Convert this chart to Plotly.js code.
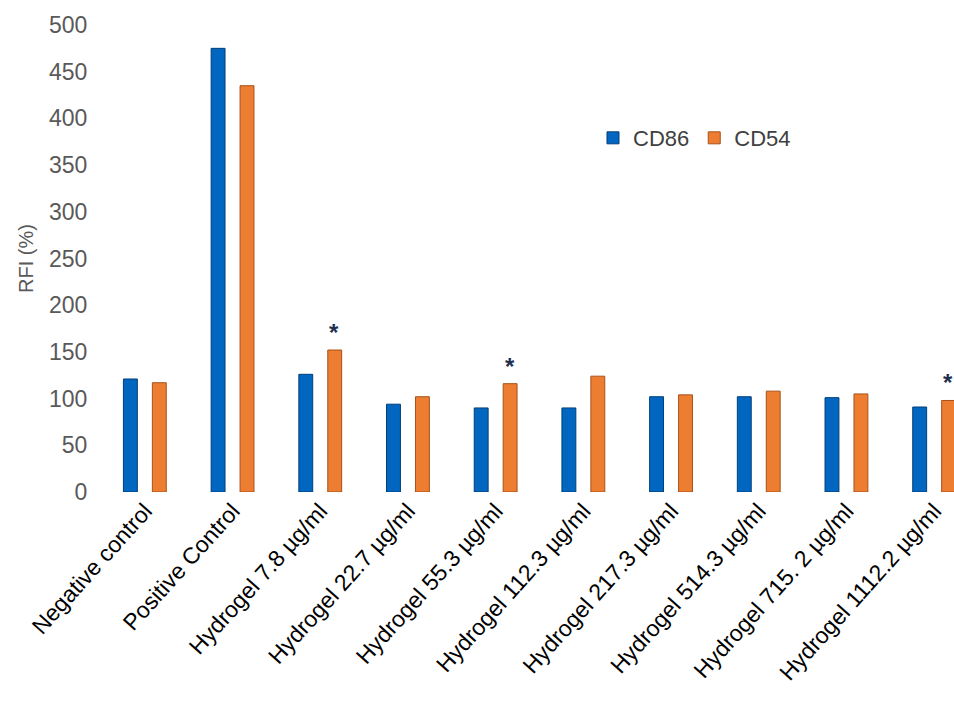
<!DOCTYPE html>
<html>
<head>
<meta charset="utf-8">
<script src="https://cdn.plot.ly/plotly-3.0.1.min.js"></script>
<style>
html,body{margin:0;padding:0;overflow:hidden;background:#fff;}
#chart{width:980px;height:706px;}
</style>
</head>
<body>
<div id="chart"></div>
<script>
const categories = [
  "Negative control", "Positive Control", "Hydrogel 7.8 µg/ml", "Hydrogel 22.7 µg/ml",
  "Hydrogel 55.3 µg/ml", "Hydrogel 112.3 µg/ml", "Hydrogel 217.3 µg/ml",
  "Hydrogel 514.3 µg/ml", "Hydrogel 715. 2 µg/ml", "Hydrogel 1112.2 µg/ml"
];
const cd86 = [121, 475, 126, 94, 90, 90, 102, 102, 101, 91];
const cd54 = [117, 435, 152, 102, 116, 124, 104, 108, 105, 98];
const starCategories = ["Hydrogel 7.8 µg/ml", "Hydrogel 55.3 µg/ml", "Hydrogel 1112.2 µg/ml"];
const yTicks = [0, 50, 100, 150, 200, 250, 300, 350, 400, 450, 500];

const font = "Liberation Sans, Arial, sans-serif";

const traces = [
  {type: "bar", name: "CD86", x: categories, y: cd86,
   marker: {color: "#0066C0", line: {color: "#003f7a", width: 1}}},
  {type: "bar", name: "CD54", x: categories, y: cd54,
   marker: {color: "#ED7D31", line: {color: "#a8511a", width: 1}}}
];

const annotations = starCategories.map(c => {
  const i = categories.indexOf(c);
  return {x: c, y: cd54[i], xref: "x", yref: "y", text: "<b>*</b>", showarrow: false,
          xshift: 14, yshift: 2, yanchor: "bottom",
          font: {family: font, size: 24, color: "#1f2f4f"}};
});

const layout = {
  width: 980, height: 706,
  margin: {l: 101, r: 2, t: 25, b: 214},
  paper_bgcolor: "#fff", plot_bgcolor: "#fff",
  barmode: "group", bargap: 0.34, bargroupgap: 0.52,
  showlegend: true,
  legend: {orientation: "h", x: 0.561, y: 0.758, xanchor: "left", yanchor: "middle",
           font: {family: font, size: 22, color: "#404040"}, itemwidth: 30, traceorder: "normal"},
  xaxis: {tickangle: -48, showgrid: false, zeroline: false, showline: false, ticks: "",
          tickfont: {family: font, size: 23, color: "#000"}},
  yaxis: {range: [0, 500], tickvals: yTicks, showgrid: false, zeroline: false, showline: false,
          ticks: "outside", ticklen: 8, tickcolor: "rgba(0,0,0,0)",
          tickfont: {family: font, size: 23, color: "#595959"},
          title: {text: "RFI (%)", standoff: 10, font: {family: font, size: 20, color: "#595959"}}},
  annotations: annotations
};

Plotly.newPlot("chart", traces, layout, {displayModeBar: false, staticPlot: true});
</script>
</body>
</html>
